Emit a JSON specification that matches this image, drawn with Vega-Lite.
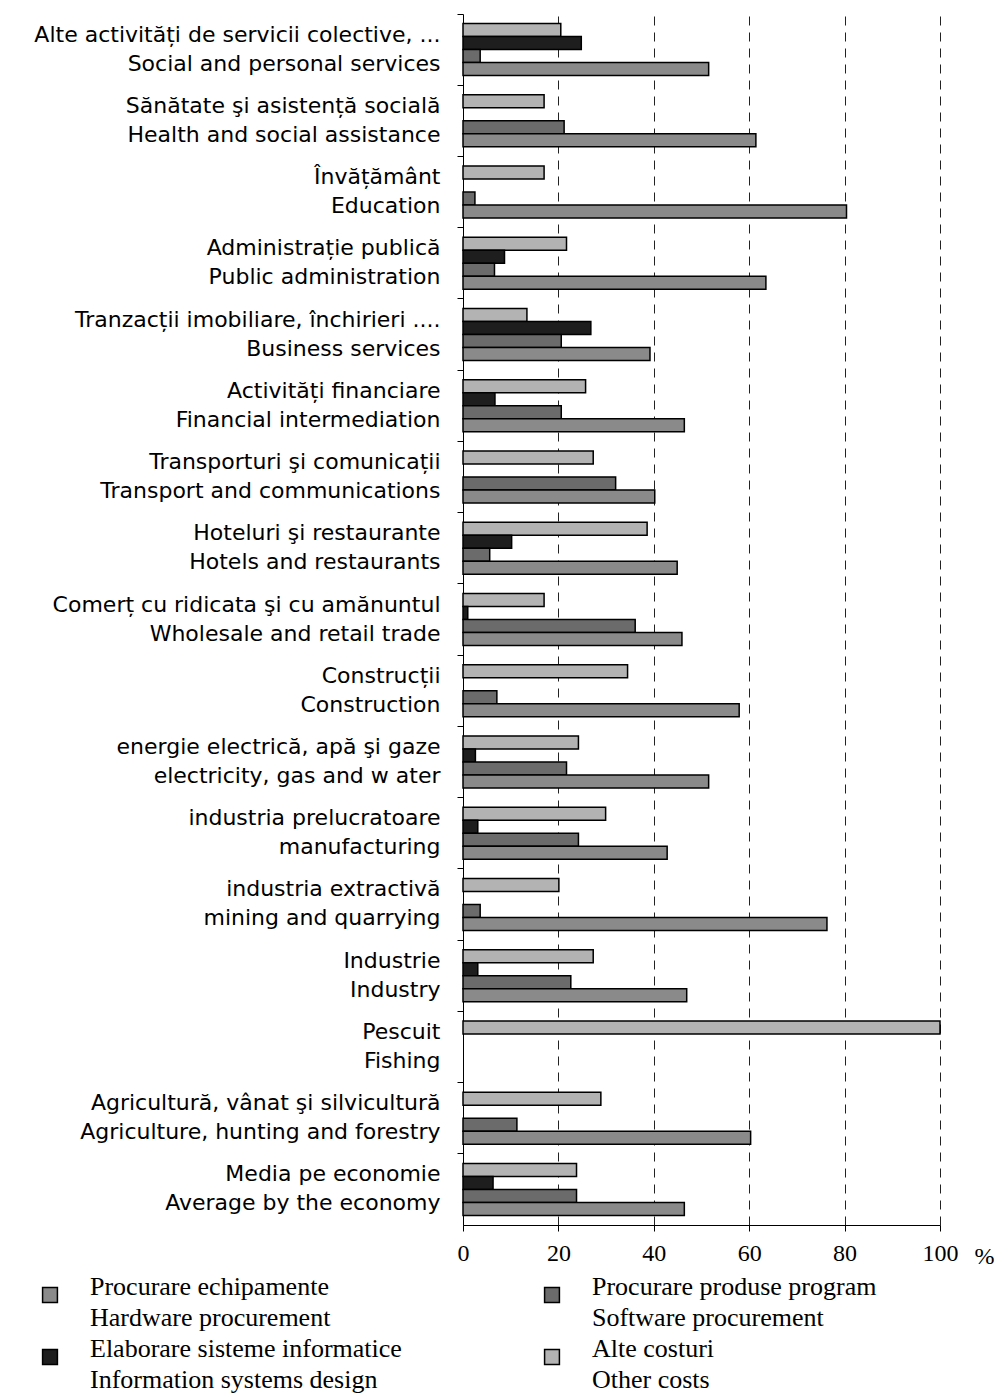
{
  "$schema": "https://vega.github.io/schema/vega-lite/v6.json",
  "width": 477,
  "height": 1211,
  "autosize": {"type": "none"},
  "padding": {"left": 463, "top": 14, "right": 58, "bottom": 169},
  "background": "white",
  "data": {
    "values": [
      {"sector": "Alte activități de servicii colective, ...|Social and personal services", "series": "Other", "value": 20.5},
      {"sector": "Alte activități de servicii colective, ...|Social and personal services", "series": "Design", "value": 24.8},
      {"sector": "Alte activități de servicii colective, ...|Social and personal services", "series": "Software", "value": 3.6},
      {"sector": "Alte activități de servicii colective, ...|Social and personal services", "series": "Hardware", "value": 51.5},
      {"sector": "Sănătate şi asistență socială|Health and social assistance", "series": "Other", "value": 17.0},
      {"sector": "Sănătate şi asistență socială|Health and social assistance", "series": "Software", "value": 21.2},
      {"sector": "Sănătate şi asistență socială|Health and social assistance", "series": "Hardware", "value": 61.4},
      {"sector": "Învățământ|Education", "series": "Other", "value": 17.0},
      {"sector": "Învățământ|Education", "series": "Software", "value": 2.5},
      {"sector": "Învățământ|Education", "series": "Hardware", "value": 80.4},
      {"sector": "Administrație publică|Public administration", "series": "Other", "value": 21.7},
      {"sector": "Administrație publică|Public administration", "series": "Design", "value": 8.7},
      {"sector": "Administrație publică|Public administration", "series": "Software", "value": 6.6},
      {"sector": "Administrație publică|Public administration", "series": "Hardware", "value": 63.5},
      {"sector": "Tranzacții imobiliare, închirieri ....|Business services", "series": "Other", "value": 13.4},
      {"sector": "Tranzacții imobiliare, închirieri ....|Business services", "series": "Design", "value": 26.8},
      {"sector": "Tranzacții imobiliare, închirieri ....|Business services", "series": "Software", "value": 20.6},
      {"sector": "Tranzacții imobiliare, închirieri ....|Business services", "series": "Hardware", "value": 39.2},
      {"sector": "Activități financiare|Financial intermediation", "series": "Other", "value": 25.7},
      {"sector": "Activități financiare|Financial intermediation", "series": "Design", "value": 6.7},
      {"sector": "Activități financiare|Financial intermediation", "series": "Software", "value": 20.6},
      {"sector": "Activități financiare|Financial intermediation", "series": "Hardware", "value": 46.4},
      {"sector": "Transporturi şi comunicații|Transport and communications", "series": "Other", "value": 27.3},
      {"sector": "Transporturi şi comunicații|Transport and communications", "series": "Software", "value": 32.0},
      {"sector": "Transporturi şi comunicații|Transport and communications", "series": "Hardware", "value": 40.2},
      {"sector": "Hoteluri şi restaurante|Hotels and restaurants", "series": "Other", "value": 38.6},
      {"sector": "Hoteluri şi restaurante|Hotels and restaurants", "series": "Design", "value": 10.2},
      {"sector": "Hoteluri şi restaurante|Hotels and restaurants", "series": "Software", "value": 5.6},
      {"sector": "Hoteluri şi restaurante|Hotels and restaurants", "series": "Hardware", "value": 44.9},
      {"sector": "Comerț cu ridicata şi cu amănuntul|Wholesale and retail trade", "series": "Other", "value": 17.0},
      {"sector": "Comerț cu ridicata şi cu amănuntul|Wholesale and retail trade", "series": "Design", "value": 1.0},
      {"sector": "Comerț cu ridicata şi cu amănuntul|Wholesale and retail trade", "series": "Software", "value": 36.1},
      {"sector": "Comerț cu ridicata şi cu amănuntul|Wholesale and retail trade", "series": "Hardware", "value": 45.9},
      {"sector": "Construcții|Construction", "series": "Other", "value": 34.5},
      {"sector": "Construcții|Construction", "series": "Software", "value": 7.1},
      {"sector": "Construcții|Construction", "series": "Hardware", "value": 57.9},
      {"sector": "energie electrică, apă şi gaze|electricity, gas and w ater", "series": "Other", "value": 24.2},
      {"sector": "energie electrică, apă şi gaze|electricity, gas and w ater", "series": "Design", "value": 2.6},
      {"sector": "energie electrică, apă şi gaze|electricity, gas and w ater", "series": "Software", "value": 21.7},
      {"sector": "energie electrică, apă şi gaze|electricity, gas and w ater", "series": "Hardware", "value": 51.5},
      {"sector": "industria prelucratoare|manufacturing", "series": "Other", "value": 29.9},
      {"sector": "industria prelucratoare|manufacturing", "series": "Design", "value": 3.1},
      {"sector": "industria prelucratoare|manufacturing", "series": "Software", "value": 24.2},
      {"sector": "industria prelucratoare|manufacturing", "series": "Hardware", "value": 42.8},
      {"sector": "industria extractivă|mining and quarrying", "series": "Other", "value": 20.1},
      {"sector": "industria extractivă|mining and quarrying", "series": "Software", "value": 3.6},
      {"sector": "industria extractivă|mining and quarrying", "series": "Hardware", "value": 76.3},
      {"sector": "Industrie|Industry", "series": "Other", "value": 27.3},
      {"sector": "Industrie|Industry", "series": "Design", "value": 3.1},
      {"sector": "Industrie|Industry", "series": "Software", "value": 22.6},
      {"sector": "Industrie|Industry", "series": "Hardware", "value": 46.9},
      {"sector": "Pescuit|Fishing", "series": "Other", "value": 100},
      {"sector": "Agricultură, vânat şi silvicultură|Agriculture, hunting and forestry", "series": "Other", "value": 28.9},
      {"sector": "Agricultură, vânat şi silvicultură|Agriculture, hunting and forestry", "series": "Software", "value": 11.3},
      {"sector": "Agricultură, vânat şi silvicultură|Agriculture, hunting and forestry", "series": "Hardware", "value": 60.3},
      {"sector": "Media pe economie|Average by the economy", "series": "Other", "value": 23.8},
      {"sector": "Media pe economie|Average by the economy", "series": "Design", "value": 6.3},
      {"sector": "Media pe economie|Average by the economy", "series": "Software", "value": 23.8},
      {"sector": "Media pe economie|Average by the economy", "series": "Hardware", "value": 46.4}
    ]
  },
  "mark": {"type": "bar", "stroke": "black", "strokeWidth": 1.5},
  "encoding": {
    "y": {
      "field": "sector",
      "type": "nominal",
      "sort": null,
      "scale": {"paddingInner": 0, "paddingOuter": 0},
      "axis": {
        "title": null,
        "bandPosition": 0,
        "domainColor": "black",
        "domainWidth": 1,
        "tickColor": "black",
        "tickSize": 6,
        "labelFont": "DejaVu Sans",
        "labelFontSize": 22,
        "labelColor": "black",
        "labelPadding": 17,
        "labelLineHeight": 29,
        "labelOffset": -15,
        "labelLimit": 600,
        "labelBound": false,
        "labelExpr": "split(datum.label, '|')"
      }
    },
    "yOffset": {
      "field": "series",
      "type": "nominal",
      "sort": ["Other", "Design", "Software", "Hardware"],
      "scale": {"paddingInner": 0, "paddingOuter": 0.74}
    },
    "x": {
      "field": "value",
      "type": "quantitative",
      "scale": {"domain": [0, 100], "nice": false},
      "axis": {
        "title": "%",
        "values": [0, 20, 40, 60, 80, 100],
        "grid": true,
        "gridDash": [9, 7],
        "gridColor": "#222222",
        "gridWidth": 1,
        "domainColor": "black",
        "tickColor": "black",
        "tickSize": 6,
        "labelFlush": false,
        "labelFont": "Liberation Serif",
        "labelFontSize": 24,
        "labelColor": "black",
        "labelPadding": 10,
        "titleFont": "Liberation Serif",
        "titleFontSize": 24,
        "titleFontWeight": "normal",
        "titleColor": "black",
        "titleX": 521,
        "titleY": 38,
        "titleAlign": "center",
        "titleBaseline": "alphabetic"
      }
    },
    "color": {
      "field": "series",
      "type": "nominal",
      "scale": {
        "domain": ["Hardware", "Software", "Design", "Other"],
        "range": ["#8a8a8a", "#6b6b6b", "#1e1e1e", "#b3b3b3"]
      },
      "legend": {
        "title": null,
        "orient": "none",
        "direction": "horizontal",
        "legendX": -426,
        "legendY": 1268,
        "columns": 2,
        "columnPadding": 137,
        "rowPadding": 5,
        "padding": 0,
        "symbolType": "square",
        "symbolSize": 220,
        "symbolStrokeColor": "black",
        "symbolStrokeWidth": 1.5,
        "symbolOpacity": 1,
        "labelFont": "Liberation Serif",
        "labelFontSize": 26,
        "labelColor": "black",
        "labelBaseline": "alphabetic",
        "labelOffset": 27,
        "labelLimit": 600,
        "labelExpr": "datum.label == 'Hardware' ? ['Procurare echipamente', 'Hardware procurement'] : datum.label == 'Software' ? ['Procurare produse program', 'Software procurement'] : datum.label == 'Design' ? ['Elaborare sisteme informatice', 'Information systems design'] : ['Alte costuri', 'Other costs']"
      }
    }
  },
  "config": {
    "view": {"stroke": null},
    "style": {"guide-label": {"lineHeight": 31}}
  }
}
